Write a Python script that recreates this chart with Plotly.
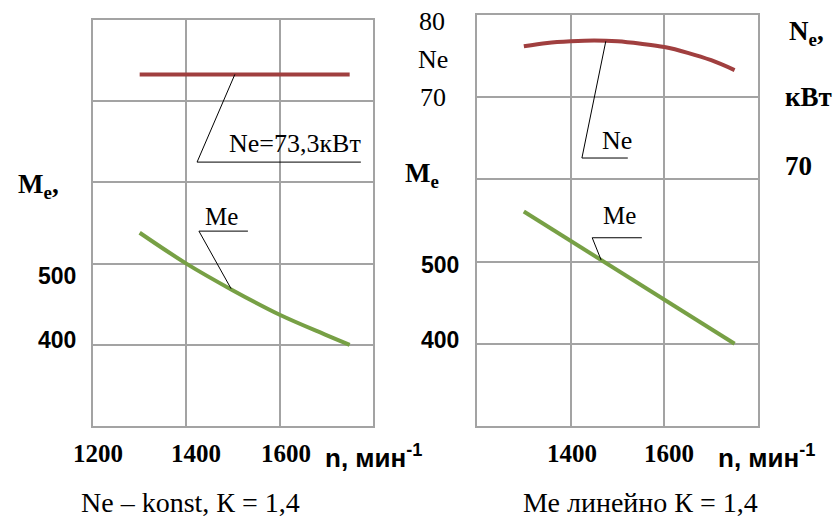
import plotly.graph_objects as go

W, H = 835, 519

# ---- data ----
n_left = [1300, 1400, 1500, 1600, 1700, 1750]
me_left = [538, 500, 467, 437, 412, 400]
ne_left_n = [1300, 1750]
ne_left = [73.3, 73.3]

n_right = [1300, 1400, 1500, 1600, 1700, 1750]
me_right = [561, 525, 489, 454, 418, 400]
ne_right_n = [1300, 1350, 1400, 1450, 1500, 1550, 1600, 1650, 1700, 1750]
ne_right = [76.2, 76.6, 76.8, 76.9, 76.8, 76.5, 76.1, 75.4, 74.5, 73.3]

x_ticks_left = ["1200", "1400", "1600"]
x_ticks_right = ["1400", "1600"]
me_ticks = ["500", "400"]

RED = "#a03f3f"
GREEN = "#77a045"
GRID = "#a3a3a3"
SERIF = "Liberation Serif, Times New Roman, serif"
SANS = "Liberation Sans, Arial, sans-serif"


def px(x, y):
    return x / W, 1 - y / H


fig = go.Figure()
fig.add_trace(go.Scatter(x=n_left, y=me_left, mode="lines", line=dict(color=GREEN, width=4, shape="spline"),
                         xaxis="x", yaxis="y", showlegend=False))
fig.add_trace(go.Scatter(x=ne_left_n, y=ne_left, mode="lines", line=dict(color=RED, width=4),
                         xaxis="x", yaxis="y3", showlegend=False))
fig.add_trace(go.Scatter(x=n_right, y=me_right, mode="lines", line=dict(color=GREEN, width=4),
                         xaxis="x2", yaxis="y2", showlegend=False))
fig.add_trace(go.Scatter(x=ne_right_n, y=ne_right, mode="lines", line=dict(color=RED, width=4, shape="spline"),
                         xaxis="x2", yaxis="y4", showlegend=False))

xa = dict(range=[1200, 1800], dtick=200, showgrid=True, gridcolor=GRID, gridwidth=1.5,
          showline=True, mirror=True, linecolor=GRID, linewidth=1.5, showticklabels=False,
          ticks="", zeroline=False, fixedrange=True)
ya = dict(range=[300, 800], dtick=100, showgrid=True, gridcolor=GRID, gridwidth=1.5,
          showline=True, mirror=True, linecolor=GRID, linewidth=1.5, showticklabels=False,
          ticks="", zeroline=False, fixedrange=True)

fig.update_layout(
    width=W, height=H, margin=dict(l=0, r=0, t=0, b=0),
    paper_bgcolor="white", plot_bgcolor="white",
    xaxis=dict(xa, domain=[93 / W, 373 / W], anchor="y"),
    yaxis=dict(ya, domain=[1 - 426 / H, 1 - 20 / H], anchor="x"),
    xaxis2=dict(xa, domain=[477 / W, 758 / W], anchor="y2"),
    yaxis2=dict(ya, domain=[1 - 426 / H, 1 - 15 / H], anchor="x2"),
    yaxis3=dict(range=[30, 80], overlaying="y", visible=False, fixedrange=True),
    yaxis4=dict(range=[30, 80], overlaying="y2", visible=False, fixedrange=True),
)

shapes = []
# gap in left panel's left border
shapes.append(dict(type="line", xref="x", yref="y", x0=1200, x1=1200, y0=697, y1=671,
                   line=dict(color="white", width=4), layer="above"))
# leader lines
blk = dict(color="black", width=1)
shapes += [
    dict(type="line", xref="x", yref="y", x0=1504, y0=733, x1=1423, y1=625, line=blk),
    dict(type="line", xref="x", yref="y", x0=1423, y0=625, x1=1774, y1=625, line=blk),
    dict(type="line", xref="x", yref="y", x0=1427, y0=540, x1=1532, y1=540, line=blk),
    dict(type="line", xref="x", yref="y", x0=1427, y0=540, x1=1496, y1=469, line=blk),
    dict(type="line", xref="x2", yref="y2", x0=1475, y0=768, x1=1424, y1=626, line=blk),
    dict(type="line", xref="x2", yref="y2", x0=1424, y0=626, x1=1522, y1=626, line=blk),
    dict(type="line", xref="x2", yref="y2", x0=1446, y0=529, x1=1552, y1=529, line=blk),
    dict(type="line", xref="x2", yref="y2", x0=1446, y0=529, x1=1465, y1=502, line=blk),
]
fig.update_layout(shapes=shapes)


def txt(x, y, s, family=SERIF, size=22, bold=False):
    xx, yy = px(x, y)
    if bold:
        s = "<b>" + s + "</b>"
    fig.add_annotation(x=xx, y=yy, xref="paper", yref="paper", text=s, showarrow=False,
                       font=dict(family=family, size=size, color="black"),
                       xanchor="center", yanchor="middle")


# left panel texts
txt(38, 186, "M<sub>e</sub>,", size=27, bold=True)
for s, y in zip(me_ticks, [276, 340]):
    txt(57, y, s, family=SANS, size=23, bold=True)
for s, x in zip(x_ticks_left, [98, 196, 286]):
    txt(x, 453, s, size=25, bold=True)
txt(373, 456, "n, мин<sup>-1</sup>", family=SANS, size=26, bold=True)
txt(295, 143, "Ne=73,3кВт", size=26)
txt(221, 216, "Me", size=25)
txt(190, 502, "Ne – konst, К = 1,4", size=28)

# right panel texts
txt(432, 22, "80", size=26)
txt(433, 60, "Ne", size=26)
txt(433, 97, "70", size=26)
txt(422, 175, "M<sub>e</sub>", size=27, bold=True)
for s, y in zip(me_ticks, [265, 340]):
    txt(440, y, s, family=SANS, size=23, bold=True)
for s, x in zip(x_ticks_right, [572, 669]):
    txt(x, 453, s, size=25, bold=True)
txt(766, 456, "n, мин<sup>-1</sup>", family=SANS, size=26, bold=True)
txt(806, 33, "N<sub>e</sub>,", size=27, bold=True)
txt(808, 97, "кВт", size=27, bold=True)
txt(798, 166, "70", size=27, bold=True)
txt(617, 140, "Ne", size=26)
txt(619, 215, "Me", size=25)
txt(640, 502, "Ме линейно К = 1,4", size=28)

fig.write_html("out.html")
